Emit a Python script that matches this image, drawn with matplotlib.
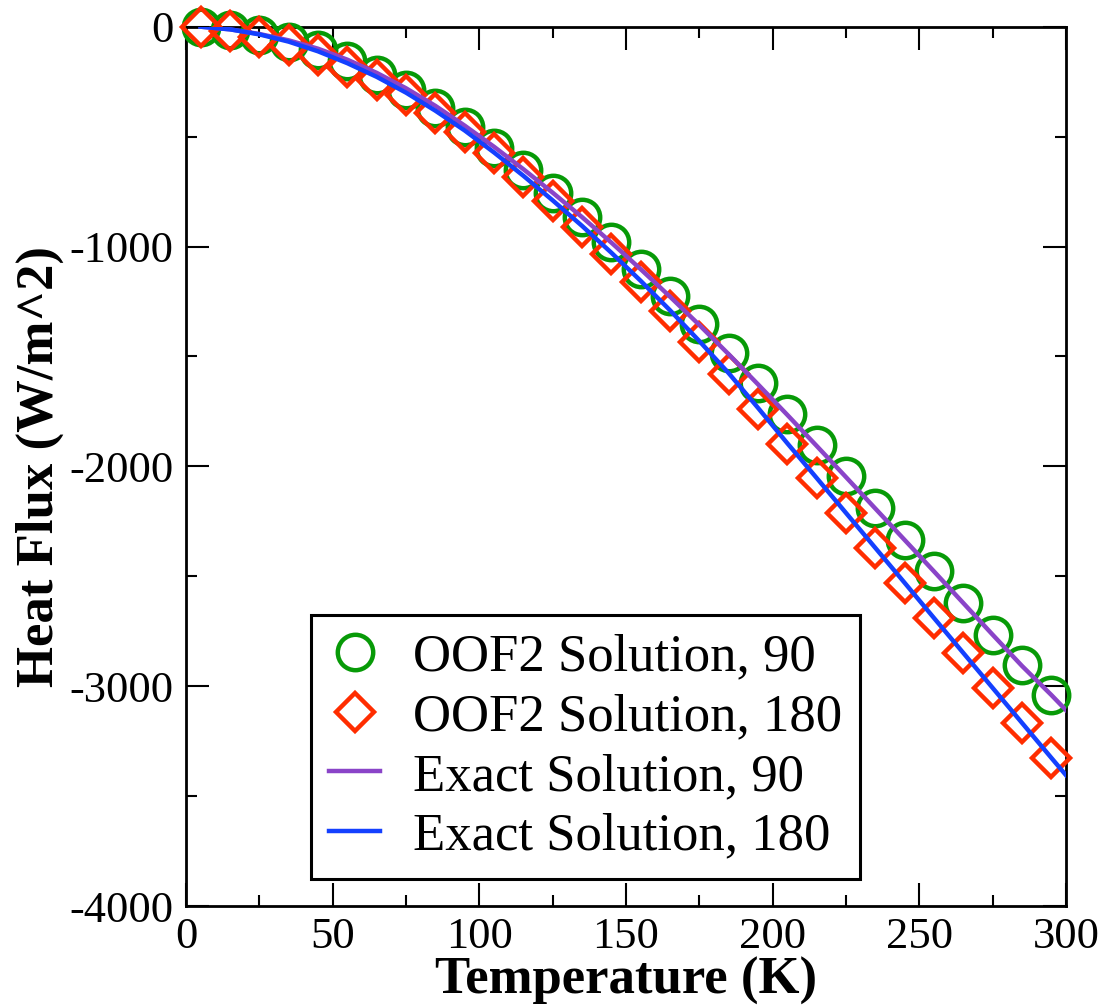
import numpy as np
import matplotlib
matplotlib.use("Agg")
import matplotlib.pyplot as plt
from matplotlib.ticker import MultipleLocator

# temperatures of the OOF2 points
temp_pts = [5, 15, 25, 35, 45, 55, 65, 75, 85, 95,
            105, 115, 125, 135, 145, 155, 165, 175, 185, 195,
            205, 215, 225, 235, 245, 255, 265, 275, 285, 295]
oof_90 = [-2, -15, -38, -68, -108, -158, -218, -288, -368, -456,
          -550, -650, -755, -865, -980, -1100, -1224, -1352, -1485, -1622,
          -1762, -1903, -2046, -2190, -2333, -2477, -2621, -2765, -2905, -3042]
oof_180 = [-2, -20, -45, -82, -128, -183, -244, -312, -392, -478,
           -576, -682, -795, -910, -1032, -1160, -1295, -1434, -1580, -1737,
           -1898, -2055, -2214, -2373, -2532, -2692, -2851, -3010, -3168, -3327]

# exact curves
temp_exact = [5, 15, 25, 35, 45, 55, 65, 75, 85, 95,
              105, 115, 125, 135, 145, 155, 165, 175, 185, 195,
              205, 215, 225, 235, 245, 255, 265, 275, 285, 295, 300]
exact_90 = [0, -12, -33, -62, -100, -150, -210, -280, -360, -450,
            -546, -648, -755, -866, -982, -1103, -1228, -1357, -1490, -1627,
            -1766, -1907, -2049, -2192, -2335, -2478, -2622, -2766, -2908, -3040, -3109]
exact_180 = [0, -12, -35, -68, -112, -166, -228, -300, -382, -472,
             -572, -678, -790, -906, -1028, -1156, -1290, -1430, -1576, -1734,
             -1895, -2053, -2212, -2371, -2530, -2690, -2849, -3008, -3167, -3326, -3405]

labels = ["OOF2 Solution, 90", "OOF2 Solution, 180",
          "Exact Solution, 90", "Exact Solution, 180"]

plt.rcParams['font.family'] = ['Liberation Serif', 'DejaVu Serif']
plt.rcParams['axes.unicode_minus'] = False

W, H = 1104, 1006
fig = plt.figure(figsize=(W/100, H/100), dpi=100)
ax = fig.add_axes([186/W, 1-906/H, (1066-186)/W, (906-26.7)/H])

c_green = '#079a07'
c_red = '#ff2d00'
c_purple = '#8a44c8'
c_blue = '#1440ff'

ax.plot(temp_pts, oof_90, linestyle='none', marker='o', ms=25.5, mew=3.2,
        mfc='none', mec=c_green, clip_on=False, label=labels[0], zorder=3)
ax.plot(temp_pts, oof_180, linestyle='none', marker='D', ms=19.5, mew=3.2,
        mfc='none', mec=c_red, clip_on=False, label=labels[1], zorder=4)
ax.plot(temp_exact, exact_90, color=c_purple, lw=3.2, label=labels[2], zorder=5)
ax.plot(temp_exact, exact_180, color=c_blue, lw=3.2, label=labels[3], zorder=6)

ax.set_xlim(0, 300)
ax.set_ylim(-4000, 0)
ax.xaxis.set_major_locator(MultipleLocator(50))
ax.xaxis.set_minor_locator(MultipleLocator(25))
ax.yaxis.set_major_locator(MultipleLocator(1000))
ax.yaxis.set_minor_locator(MultipleLocator(500))
ax.tick_params(which='both', direction='in', top=True, right=True, width=1.5)
ax.tick_params(which='major', length=16.5, labelsize=32)
ax.tick_params(which='major', axis='x', pad=8)
ax.tick_params(which='major', axis='y', pad=9)
ax.tick_params(which='minor', length=8)
for s in ax.spines.values():
    s.set_linewidth(2)

ax.set_xlabel("Temperature (K)", fontsize=38, fontweight='bold', labelpad=0)
ax.set_ylabel("Heat Flux (W/m^2)", fontsize=38, fontweight='bold', labelpad=4)

leg = ax.legend(loc='lower left', bbox_to_anchor=(311/W, 1-879/H),
                bbox_transform=fig.transFigure, borderaxespad=0,
                fontsize=38, handlelength=0.95, handletextpad=0.63,
                borderpad=0.35, labelspacing=0.22, numpoints=1,
                fancybox=False, framealpha=1)
leg.get_frame().set_edgecolor('black')
leg.get_frame().set_linewidth(2.2)

fig.savefig("out.png", dpi=100)
